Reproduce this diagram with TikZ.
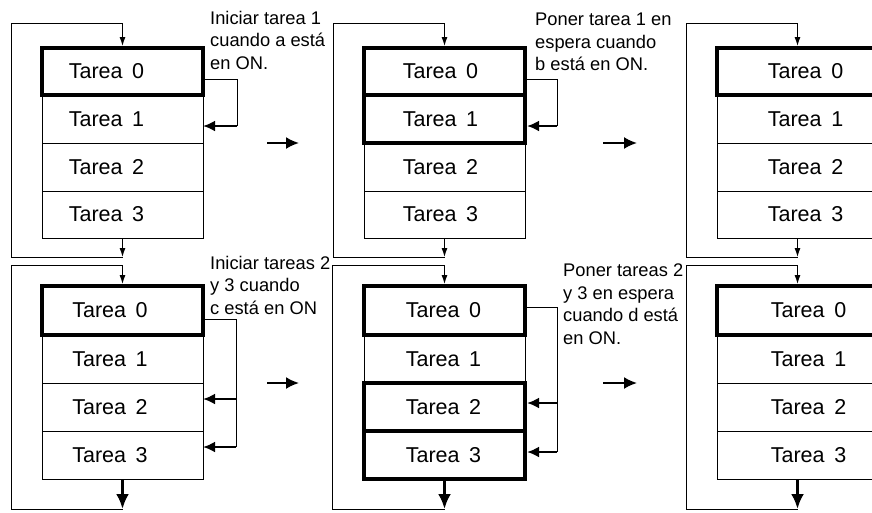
\documentclass[tikz,border=0pt]{standalone}
\usepackage{fontspec}
\setmainfont{Liberation Sans}
\usetikzlibrary{arrows.meta}
\newcommand\tarfont{\fontsize{21.5}{25}\selectfont\spaceskip=0.45em\relax}
\newcommand\notefont{\fontsize{18.3}{22.5}\selectfont}
\begin{document}
\begin{tikzpicture}[x=1pt,y=-1pt,
  rowbox/.style={draw,line width=1pt,minimum width=161pt,minimum height=#1,inner sep=0pt,outer sep=0pt,anchor=north west,font=\tarfont},
  widebox/.style={minimum width=180pt},
  act/.style={line width=4pt},
  tsh/.style={execute at begin node={\kern#1\relax}},
  note/.style={font=\notefont,align=left,inner sep=0pt,anchor=north west},
  wire/.style={line width=1pt},
  tip/.style={line width=1pt,-{Latex[length=9pt,width=6pt]}},
  bigtip/.style={line width=3pt,-{Latex[length=15pt,width=13pt]}},
  hook/.style={line width=2.5pt,-{Latex[length=12pt,width=11pt]}},
  goes/.style={line width=2pt,-{Latex[length=13pt,width=12pt]}}]
\useasboundingbox (0,0) rectangle (872,512);
\clip (0,0) rectangle (872,512);

% ---------- Panel 1 ----------
\node[rowbox=48pt,tsh=-32pt] (p1r1) at (42,95) {Tarea 1};
\node[rowbox=48pt,tsh=-32pt] (p1r2) at (42,143) {Tarea 2};
\node[rowbox=47pt,tsh=-32pt] (p1r3) at (42,191) {Tarea 3};
\node[rowbox=47pt,act,tsh=-32pt] (p1r0) at (42,48) {Tarea 0};
\coordinate (p1b) at (122.5,257);
\coordinate (p1bl) at (11.5,257);
\coordinate (p1tl) at (11.5,23);
\coordinate (p1t) at (122.5,23);
\draw[tip] (p1r3.south) -- (p1b);
\draw[tip] (p1b) -- (p1bl) -- (p1tl) -- (p1t) -- ([yshift=2pt]p1r0.north);
\coordinate (p1k) at (237,126);
\draw[wire] ([yshift=-8pt]p1r0.east) -| (p1k);
\draw[hook] (p1k) -- (p1k -| p1r1.east);
\node[note] (n1) at (210,11) {Iniciar tarea 1\\cuando a está\\en ON.};

% ---------- Panel 2 ----------
\node[rowbox=48pt,tsh=-8pt] (p2r2) at (364,143) {Tarea 2};
\node[rowbox=47pt,tsh=-8pt] (p2r3) at (364,191) {Tarea 3};
\node[rowbox=47pt,act,tsh=-8pt] (p2r0) at (364,48) {Tarea 0};
\node[rowbox=48pt,act,tsh=-8pt] (p2r1) at (364,95) {Tarea 1};
\coordinate (p2b) at (444.5,257);
\coordinate (p2bl) at (333,257);
\coordinate (p2tl) at (333,23);
\coordinate (p2t) at (444.5,23);
\draw[tip] (p2r3.south) -- (p2b);
\draw[tip] (p2b) -- (p2bl) -- (p2tl) -- (p2t) -- ([yshift=2pt]p2r0.north);
\coordinate (p2k) at (557,126);
\draw[wire] ([yshift=-8pt]p2r0.east) -| (p2k);
\draw[hook] (p2k) -- ([xshift=2pt]p2k -| p2r1.east);
\node[note] (n2) at (535,13) {Poner tarea 1 en\\espera cuando\\b está en ON.};

% ---------- Panel 3 (cut by the right margin) ----------
\node[rowbox=48pt,widebox,tsh=-3pt] (p3r1) at (717,95) {Tarea 1};
\node[rowbox=48pt,widebox,tsh=-3pt] (p3r2) at (717,143) {Tarea 2};
\node[rowbox=47pt,widebox,tsh=-3pt] (p3r3) at (717,191) {Tarea 3};
\node[rowbox=47pt,widebox,act,tsh=-3pt] (p3r0) at (717,48) {Tarea 0};
\coordinate (p3b) at (797.5,257);
\coordinate (p3bl) at (686,257);
\coordinate (p3tl) at (686,23);
\coordinate (p3t) at (797.5,23);
\coordinate (p3in) at (797.5,46);
\coordinate (p3out) at (797.5,238);
\draw[tip] (p3out) -- (p3b);
\draw[tip] (p3b) -- (p3bl) -- (p3tl) -- (p3t) -- (p3in);

% ---------- Panel 4 ----------
\node[rowbox=48pt,tsh=-25pt] (p4r1) at (42,335) {Tarea 1};
\node[rowbox=48pt,tsh=-25pt] (p4r2) at (42,383) {Tarea 2};
\node[rowbox=48pt,tsh=-25pt] (p4r3) at (42,431) {Tarea 3};
\node[rowbox=49pt,act,tsh=-25pt] (p4r0) at (42,286) {Tarea 0};
\coordinate (p4b) at (122.5,509);
\coordinate (p4bl) at (11.5,509);
\coordinate (p4tl) at (11.5,265);
\coordinate (p4t) at (122.5,265);
\draw[bigtip] (p4r3.south) -- (p4b);
\draw[tip] (p4b) -- (p4bl) -- (p4tl) -- (p4t) -- ([yshift=2pt]p4r0.north);
\coordinate (p4k2) at (236,399);
\coordinate (p4k3) at (236,447);
\draw[wire] ([yshift=-9pt]p4r0.east) -| (p4k3);
\draw[hook] (p4k2) -- (p4k2 -| p4r2.east);
\draw[hook] (p4k3) -- (p4k3 -| p4r3.east);
\node[note] (n3) at (210,256) {Iniciar tareas 2\\y 3 cuando\\c está en ON};

% ---------- Panel 5 ----------
\node[rowbox=48pt,tsh=-2pt] (p5r1) at (364,335) {Tarea 1};
\node[rowbox=49pt,act,tsh=-2pt] (p5r0) at (364,286) {Tarea 0};
\node[rowbox=48pt,act,tsh=-2pt] (p5r2) at (364,383) {Tarea 2};
\node[rowbox=48pt,act,tsh=-2pt] (p5r3) at (364,431) {Tarea 3};
\coordinate (p5b) at (444.5,509);
\coordinate (p5bl) at (332,509);
\coordinate (p5tl) at (332,265);
\coordinate (p5t) at (444.5,265);
\draw[bigtip] ([yshift=-2pt]p5r3.south) -- (p5b);
\draw[tip] (p5b) -- (p5bl) -- (p5tl) -- (p5t) -- ([yshift=2pt]p5r0.north);
\coordinate (p5k2) at (557,403);
\coordinate (p5k3) at (557,452);
\draw[wire] ([yshift=3.5pt]p5r0.east) -| (p5k3);
\draw[hook] (p5k2) -- ([xshift=2pt]p5k2 -| p5r2.east);
\draw[hook] (p5k3) -- ([xshift=2pt]p5k3 -| p5r3.east);
\node[note] (n4) at (563,264) {Poner tareas 2\\y 3 en espera\\cuando d está\\en ON.};

% ---------- Panel 6 (cut by the right margin) ----------
\node[rowbox=48pt,widebox,tsh=3pt] (p6r1) at (717,335) {Tarea 1};
\node[rowbox=48pt,widebox,tsh=3pt] (p6r2) at (717,383) {Tarea 2};
\node[rowbox=48pt,widebox,tsh=3pt] (p6r3) at (717,431) {Tarea 3};
\node[rowbox=49pt,widebox,act,tsh=3pt] (p6r0) at (717,286) {Tarea 0};
\coordinate (p6b) at (797.5,509);
\coordinate (p6bl) at (686,509);
\coordinate (p6tl) at (686,265);
\coordinate (p6t) at (797.5,265);
\coordinate (p6in) at (797.5,284);
\coordinate (p6out) at (797.5,479);
\draw[bigtip] (p6out) -- (p6b);
\draw[tip] (p6b) -- (p6bl) -- (p6tl) -- (p6t) -- (p6in);

% ---------- step arrows ----------
\coordinate (s1a) at (267,143); \coordinate (s1b) at (299,143);
\coordinate (s2a) at (603,143); \coordinate (s2b) at (637,143);
\coordinate (s3a) at (267,383); \coordinate (s3b) at (299,383);
\coordinate (s4a) at (603,383); \coordinate (s4b) at (637,383);
\draw[goes] (s1a) -- (s1b);
\draw[goes] (s2a) -- (s2b);
\draw[goes] (s3a) -- (s3b);
\draw[goes] (s4a) -- (s4b);
\end{tikzpicture}
\end{document}
